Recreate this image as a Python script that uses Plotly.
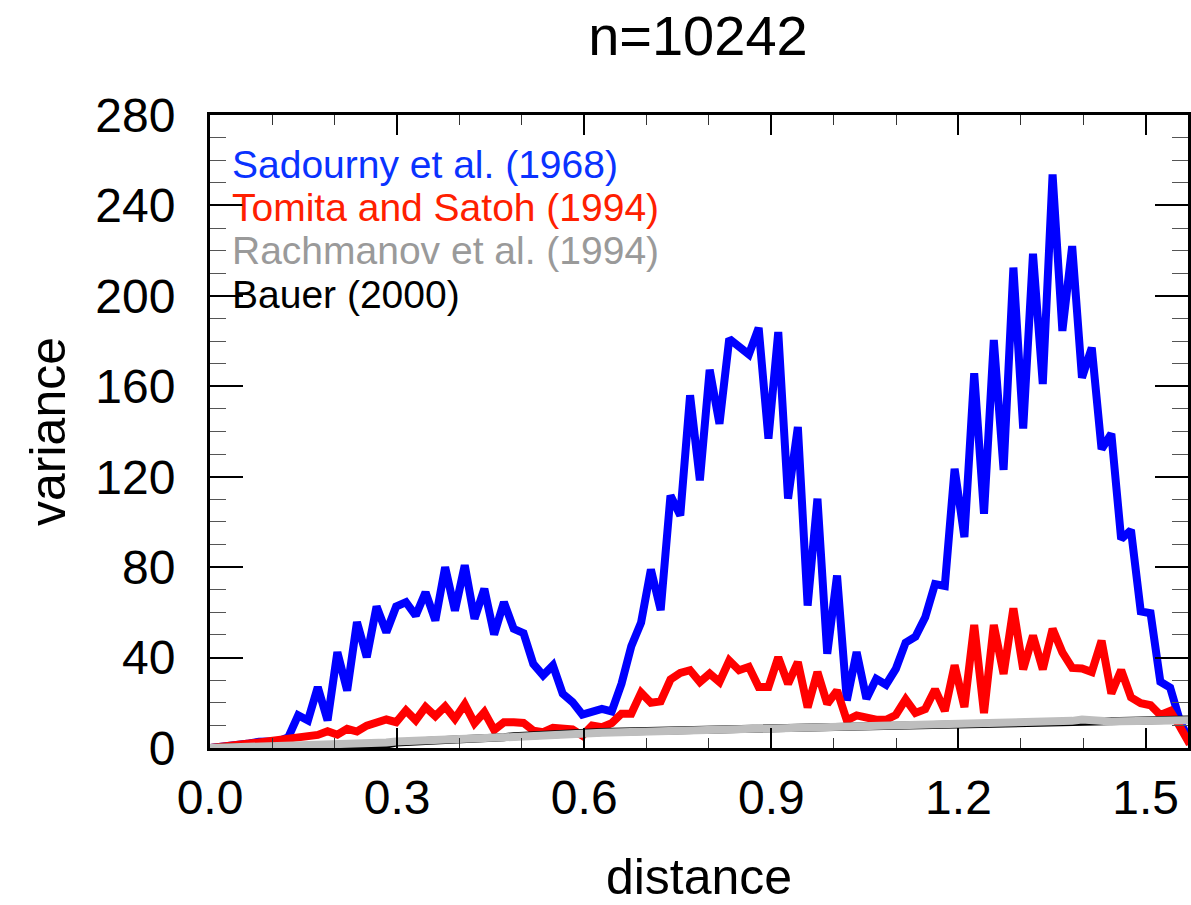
import numpy as np
import plotly.graph_objects as go

# distance grid: 101 samples from 0 to pi/2
distance = np.linspace(0, np.pi / 2, 101)

sadourny = [0, 0.3, 0.7, 1.2, 2.0, 2.8, 3.0, 3.0, 4.8, 14.5,
            12.2, 26.9, 12.2, 42.4, 25.4, 55.7, 40.2, 62.6, 51.2, 62.6,
            64.5, 58.6, 68.9, 56.4, 80.0, 60.8, 80.8, 57.2, 70.4, 50.2,
            64.5, 52.7, 50.8, 37.2, 32.1, 36.5, 24.0, 20.3, 14.8, 16.1,
            17.3, 16.2, 28.4, 45.0, 55.5, 79.0, 61.0, 111.7, 102.9, 156.0,
            118.4, 167.3, 143.4, 181.0, 177.7, 174.1, 185.8, 136.8, 184.0, 110.3,
            142.0, 63.0, 110.3, 41.7, 76.3, 21.0, 42.4, 21.8, 30.6, 28.0,
            35.0, 46.6, 49.2, 57.8, 72.5, 71.7, 123.5, 93.3, 165.8, 103.6,
            180.5, 123.0, 212.5, 141.3, 218.6, 161.0, 253.7, 184.5, 222.0, 163.8,
            177.1, 132.2, 139.0, 92.4, 96.4, 60.4, 59.6, 29.3, 26.7, 12.0,
            3.0]

tomita = [0, 0.3, 0.8, 1.5, 2.0, 2.5, 3.0, 3.3, 3.6, 4.1,
          4.8, 5.8, 7.4, 5.9, 8.5, 7.3, 9.9, 11.0, 12.6, 11.4,
          16.6, 12.2, 18.1, 14.1, 18.4, 12.9, 19.3, 11.0, 15.9, 8.0,
          11.4, 11.4, 11.1, 7.7, 7.0, 8.9, 8.5, 8.2, 5.5, 9.9,
          9.2, 11.0, 15.2, 15.2, 24.5, 20.0, 20.6, 30.3, 33.2, 34.4,
          29.2, 32.9, 29.2, 38.7, 34.4, 35.9, 27.0, 27.0, 40.1, 28.4,
          38.0, 18.0, 33.6, 19.5, 25.4, 12.2, 14.4, 13.0, 12.5, 12.5,
          14.6, 21.5, 15.5, 17.2, 25.9, 16.4, 36.6, 18.1, 54.4, 15.5,
          54.4, 32.8, 61.8, 34.8, 49.7, 34.8, 52.7, 42.3, 35.4, 35.2,
          33.6, 47.5, 24.1, 34.5, 22.4, 19.8, 18.9, 14.6, 16.4, 9.4,
          1.7]

rachmanov = [0, 0.1, 0.2, 0.3, 0.4, 0.5, 0.6, 0.7, 0.8, 0.9,
             1.0, 1.1, 1.2, 1.3, 1.4, 1.5, 1.6, 1.8, 2.4, 2.9,
             3.0, 3.2, 3.3, 3.5, 3.7, 3.8, 4.0, 4.2, 4.3, 4.5,
             4.7, 4.9, 5.1, 5.4, 5.7, 5.9, 6.1, 6.3, 6.5, 6.6,
             6.8, 6.9, 7.0, 7.2, 7.3, 7.4, 7.6, 7.7, 7.8, 7.9,
             8.1, 8.2, 8.3, 8.4, 8.5, 8.6, 8.7, 8.9, 9.0, 9.0,
             9.1, 9.2, 9.3, 9.4, 9.5, 9.6, 9.7, 9.8, 9.9, 10.0,
             10.0, 10.1, 10.2, 10.3, 10.4, 10.5, 10.6, 10.7, 10.8, 10.8,
             10.9, 11.0, 11.1, 11.1, 11.2, 11.3, 11.4, 11.5, 12.0, 12.6,
             12.0, 11.7, 11.7, 11.8, 11.8, 11.9, 12.0, 12.0, 12.1, 12.2,
             12.3]

bauer = [0, 0.1, 0.1, 0.0, 0.0, 0.0, 0.1, 0.1, 0.2, 0.3,
         0.4, 0.5, 0.6, 0.7, 0.8, 0.9, 1.0, 1.1, 1.5, 2.4,
         2.8, 3.0, 3.1, 3.3, 3.5, 3.6, 3.8, 4.0, 4.2, 4.4,
         4.8, 5.2, 5.5, 5.8, 6.0, 6.2, 6.4, 6.6, 6.8, 7.0,
         7.1, 7.2, 7.3, 7.5, 7.6, 7.7, 7.9, 8.0, 8.1, 8.3,
         8.4, 8.6, 8.7, 8.8, 8.9, 9.0, 9.1, 9.2, 9.3, 9.4,
         9.5, 9.6, 9.7, 9.8, 9.9, 10.0, 10.1, 10.2, 10.3, 10.4,
         10.4, 10.5, 10.6, 10.7, 10.8, 10.9, 11.0, 11.1, 11.2, 11.2,
         11.3, 11.4, 11.5, 11.5, 11.6, 11.7, 11.8, 11.9, 12.0, 12.1,
         11.9, 11.9, 12.0, 12.1, 12.1, 12.2, 12.3, 12.3, 12.4, 12.5,
         12.6]

series_names = ["Sadourny et al. (1968)", "Tomita and Satoh (1994)",
                "Rachmanov et al. (1994)", "Bauer (2000)"]
legend_y = [258, 239, 220, 200.5]
text_colors = ["#0a32ff", "#ff2000", "#9a9a9a", "#000000"]

fig = go.Figure()
fig.add_trace(go.Scatter(x=distance, y=sadourny, mode="lines",
                         line=dict(color="#0000ff", width=8), name=series_names[0]))
fig.add_trace(go.Scatter(x=distance, y=tomita, mode="lines",
                         line=dict(color="#ff0000", width=8), name=series_names[1]))
fig.add_trace(go.Scatter(x=distance, y=bauer, mode="lines",
                         line=dict(color="#000000", width=8), name=series_names[3]))
fig.add_trace(go.Scatter(x=distance, y=rachmanov, mode="lines",
                         line=dict(color="#bebebe", width=8), name=series_names[2]))

for name, yy, col in zip(series_names, legend_y, text_colors):
    fig.add_annotation(x=0.032, y=yy, xref="x", yref="y", text=name,
                       showarrow=False, xanchor="left", yanchor="middle",
                       font=dict(size=39, color=col, family="Liberation Sans, Arial"))

fig.update_layout(
    width=1191, height=905,
    margin=dict(l=210, r=0, t=115, b=157),
    paper_bgcolor="white", plot_bgcolor="white",
    showlegend=False,
    font=dict(family="Liberation Sans, Arial", color="black"),
    title=dict(text="n=10242", x=0.586, xanchor="center", y=0.961, yanchor="middle",
               font=dict(size=56, family="Liberation Sans, Arial", color="black")),
)

fig.update_xaxes(
    range=[0, 1.568], showgrid=False, zeroline=False,
    showline=True, linecolor="black", linewidth=3, mirror="allticks",
    ticks="inside", ticklen=20, tickwidth=2, tickcolor="black",
    tick0=0, dtick=0.3, tickformat=".1f",
    tickfont=dict(size=48), ticklabelstandoff=5,
    minor=dict(ticks="inside", ticklen=10, tickwidth=1, tickcolor="#333333", dtick=0.1, tick0=0),
    title=dict(text="distance", font=dict(size=50), standoff=45),
)
fig.update_yaxes(
    range=[0, 280], showgrid=False, zeroline=False,
    showline=True, linecolor="black", linewidth=3, mirror="allticks",
    ticks="inside", ticklen=33, tickwidth=2, tickcolor="black",
    tick0=0, dtick=40,
    tickfont=dict(size=48), ticklabelstandoff=22,
    minor=dict(ticks="inside", ticklen=16, tickwidth=1, tickcolor="#555555", dtick=10, tick0=0),
    title=dict(text="variance", font=dict(size=50), standoff=14),
)

fig.write_html("out.html")
